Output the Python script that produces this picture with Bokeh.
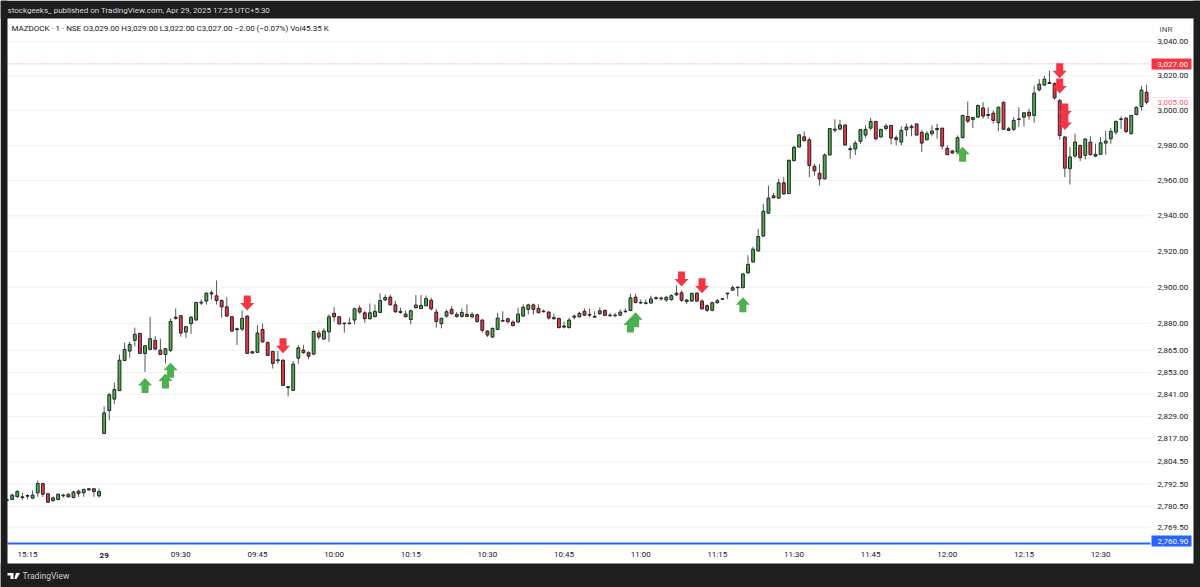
import numpy as np
from bokeh.plotting import figure
from bokeh.models import (ColumnDataSource, FixedTicker, NumeralTickFormatter, Range1d, Label,
                          BoxAnnotation, PolyAnnotation)
from bokeh.embed import file_html
from bokeh.resources import INLINE

FONT = "Roboto"

BAR_INDEX = list(range(-4, 220))
OPEN = [2783.9,2784.3,2785.7,2785.3,2786,2785,2787.8,2792.8,2787.3,2783.7,2784.3,2786.2,2787.1,2785.3,2788.7,2787.8,2789.4,2790,2786.2,
 2819.7,2832.2,2838.4,2843,2859.5,2864.7,2870.6,2874.4,2863.4,2865.6,2870.6,2865.2,2862.8,2865.1,2882.7,2884.2,2875.2,2879.8,2881.8,2891.2,2892.3,2896.3,2895.2,2892.6,2889.1,2883.6,2876.5,2876.8,2884,2864.3,2864,2876.6,2869.5,2864.5,2859.4,2859.7,2844.7,2843.2,2860.8,2865.2,2863.8,2863,2874.6,2871.3,2875.3,
 2885.5,2883.6,2879.8,2879.8,2881.8,2888.4,2885.8,2882.5,2883.6,2886,2893,2894.5,2890.2,2886.6,2885.1,2882.1,2888.6,2888.2,2889.7,2892.8,2886.2,2879.8,2884,2887.7,2884.9,2883.8,2884.9,2883.6,2884.7,2881.8,2875.7,2872.4,2876.6,2881.6,2882.5,2880.7,2880.7,2884,2887.7,2890.2,2888.2,2886.7,2886.2,2883.1,2882.7,2878.5,2877.6,2883.4,2883.6,2886.6,2884.9,2883.4,2885.3,2887.1,2884.5,2884.2,2884.5,2886.4,2887.1,2894.5,2891.5,2891,
 2891.2,2893.8,2893.6,2892.9,2893.1,2895.7,2896.9,2892.1,2892.3,2896.7,2892.3,2889.7,2887.2,2891.4,2893.3,2896.3,2898.4,2900.1,2899.7,2908,2914.1,2920.3,2928.6,2941.5,2951.3,2950,2958.7,2952.6,2971.3,2979.1,2984.9,2983.2,2968.1,2964.1,2960.9,2974.5,2988.7,2989.3,2991.7,2978.1,2977.9,
 2982.3,2985.9,2989.9,2993.7,2984.8,2989.7,2991.4,2984.4,2981.9,2989,2990.1,2992.3,2987.5,2983.2,2986.7,2989,2989.9,2978.3,2976.8,2976.2,2984.4,2996.6,2994.9,2996.2,3001.5,2997.2,2998.5,2993,3004.8,2989.5,2989.2,2994.9,2996.2,2999,2997.2,3012,3014.7,3016.2,3015.6,3005.7,2984.8,2966.7,2973.9,2980,2974.3,2981.9,2974.9,2974.9,2981.3,2983.8,2987.6,2994.9,2995.6,2986.7,2997.7,3002.3,3010.5]
HIGH = [2784.4,2787.4,2789.2,2787.8,2787.1,2789.2,2794.4,2793.1,2787.8,2786,2787.4,2787.4,2787.4,2788.9,2789.6,2790.1,2790.1,2790.1,2790.1,
 2834.4,2841.7,2847.4,2862.8,2869.3,2869.8,2877.6,2874.8,2868,2883.6,2873,2871.5,2866.2,2882.7,2888.2,2884.5,2878.5,2884,2891.9,2893.2,2897.4,2898.3,2903.8,2893.2,2894.5,2884,2877.6,2887.1,2884.4,2864.7,2879,2879.8,2869.8,2864.7,2864.7,2860.1,2845.4,2859.2,2868,2868,2864.7,2876.1,2876.1,2877.2,2884.9,
 2888.9,2884,2880.3,2883.1,2888.6,2889.9,2886.7,2891,2890.4,2896.5,2895.9,2895.9,2892.3,2888.6,2887.1,2887.7,2895.6,2895.6,2895.4,2894.1,2888,2883.1,2887.7,2889.5,2886.2,2888.2,2890.4,2886.2,2885.3,2882.1,2876.1,2877.6,2885.8,2886.7,2883.1,2881.6,2888.6,2890.4,2890.8,2891,2890.4,2887.7,2886.7,2885.3,2883.1,2880.9,2883.1,2884.9,2886.4,2888.2,2888.2,2886.7,2888.9,2887.7,2885.8,2885.8,2887.7,2888.2,2896.3,2896.3,2893.2,2893.2,
 2895.3,2894.8,2894.8,2895.2,2896.1,2901,2898.2,2893.5,2897.2,2897.2,2893.3,2890.4,2891.9,2893.5,2893.8,2897,2901,2900.1,2908,2917.8,2922.6,2932.6,2946.7,2957.1,2953,2960.9,2961.9,2971.9,2979.8,2986.4,2988,2984.6,2969.4,2969.4,2975.5,2989.9,2995,2994.6,2992,2979.8,2982.7,
 2989.5,2991.5,2995.8,2994,2989.5,2992.4,2991.6,2985.7,2990.9,2992.4,2992,2992.4,2988.6,2988.2,2991.4,2992.4,2990,2980,2977.5,2985.7,2997.5,3005.2,2996.2,3003.5,3004.8,3001.9,3000,3002.3,3005.2,2990.5,2996.2,3001.9,2999,3001,3014.3,3018.1,3020,3022.9,3016.2,3006.7,2985.2,2979.1,2986.7,2980.4,2983.8,2985.2,2981,2984.8,2988.2,2989.9,2994.3,2996.6,2996.2,2997.3,3002.3,3014.3,3014.9]
LOW = [2783.4,2783.9,2785.3,2783.9,2784.3,2784.6,2785.7,2785.7,2782.5,2783,2783.9,2785.3,2785.3,2785,2785.7,2785.7,2788.9,2785.7,2785.3,
 2819.7,2827,2835.8,2843,2859.2,2861,2867.4,2863.2,2853.3,2865.1,2865.1,2862.5,2857.9,2864.1,2882,2872.6,2872,2874.2,2881.6,2890.1,2890.4,2893.2,2890.4,2883.1,2883.4,2875.3,2868,2875.7,2863.2,2863.2,2863.8,2869.5,2861.9,2855.1,2857.7,2845.4,2839.9,2843,2857.7,2863.2,2860.1,2862.5,2871.1,2871.1,2869.8,
 2880.9,2879.4,2874.8,2879.4,2879.4,2885.3,2880.3,2882.1,2883.4,2885.8,2892.3,2890,2885.8,2885.3,2883.4,2879.4,2888.2,2887.7,2889.5,2887.1,2877.6,2877.2,2883.1,2884.9,2883.1,2883.1,2883.4,2882.7,2880.3,2874.8,2872.4,2872,2876.3,2880.9,2879.8,2878.3,2880.3,2883.6,2884.9,2884.9,2885.8,2886,2882.1,2882.1,2877.2,2877.2,2877.2,2882.1,2883.1,2884,2883.4,2883.1,2884.5,2884,2883.6,2883.4,2884,2885.8,2886.7,2891,2890.8,2890.4,
 2891,2892.9,2892.5,2891.9,2892.5,2895.3,2891.9,2890.8,2891.9,2891.9,2887.6,2886.3,2886.6,2890.8,2892.9,2893.5,2898,2894.8,2899.5,2907.4,2913.7,2919.7,2928.2,2941.1,2950,2949.6,2952,2952.4,2970.9,2978.9,2982.3,2961.9,2962.8,2957.1,2960.7,2974.2,2987.4,2988.7,2979.8,2972.3,2974.5,
 2981,2984.4,2988.6,2982.9,2984.4,2988.6,2980.6,2980,2980,2985.2,2985.2,2985.7,2976.2,2982.9,2985.2,2983.8,2977.7,2974.5,2975.2,2975.6,2984.2,2992.8,2989.9,2995.8,2995.2,2995.2,2992.4,2988.2,2989,2988.2,2988.2,2990.5,2990.9,2994.7,2993,3011,3014.3,3015.5,3006.1,2983.3,2961.9,2957.7,2973,2971.1,2972,2974.3,2973.3,2974.7,2974.7,2980.9,2986.1,2989.5,2987,2986.3,2997.2,3000,3003.5]
CLOSE = [2784.1,2786.6,2788.5,2785.7,2786.4,2786.6,2792.8,2787.1,2782.8,2785.1,2787.1,2786.6,2785.7,2788.3,2787.4,2789.6,2790,2788.5,2788.5,
 2830.9,2840.8,2843.6,2859.7,2865.6,2868.4,2873.9,2863.4,2867.6,2871.5,2865.8,2862.8,2866,2881,2883.4,2874.6,2878.1,2883.3,2891.5,2891.7,2896.7,2896.9,2892.6,2889.1,2884,2875.7,2877,2882.7,2863.4,2863.6,2874.6,2869.7,2862.3,2857.9,2859.9,2845.9,2845.2,2857.5,2866.5,2863.8,2861.9,2875.5,2872.4,2875.7,2883.6,
 2883.6,2879.6,2880.1,2880.1,2888,2886.2,2882.5,2885.8,2886.6,2892.6,2894.3,2890.2,2886.4,2886,2883.6,2886.9,2890.1,2889.9,2893.7,2888,2881,2882.7,2886.4,2885.3,2883.8,2886,2883.8,2884.9,2881,2876.1,2873.5,2877.2,2882.9,2881.2,2880.9,2878.7,2885.1,2888.9,2890.2,2887.7,2885.8,2886.4,2882.9,2882.5,2877.6,2877.9,2881.8,2884,2885.5,2884.5,2884.5,2883.8,2886.9,2884.4,2884.2,2884.5,2886.2,2886.7,2894.1,2891.5,2891.2,2891.3,
 2893.5,2894.2,2894,2894.4,2895.3,2896.7,2892.7,2892.9,2896.5,2892.3,2888,2887.2,2891.4,2892.5,2893.6,2896.7,2899.7,2899.7,2907.4,2912.7,2921.2,2928.4,2942.6,2950,2950.2,2958.7,2952.4,2971.5,2978.9,2986,2982.7,2968.5,2965.5,2960.9,2974.5,2989.7,2989.3,2991.7,2980.2,2977.6,2981.3,
 2989,2989.2,2993.7,2983.8,2989.2,2991.1,2984.2,2983.3,2988.6,2990.5,2990.9,2985.9,2981.3,2986.7,2988.2,2989.7,2979.6,2974.7,2975.6,2984.4,2997.2,2993.9,2996,3002.9,2996.8,2997.7,2994.3,3001.9,2989.2,2988.6,2994.3,2995.2,2998.7,2997,3010.1,3015.2,3018.1,3015.6,3007.3,2985.7,2967,2973.4,2981.9,2973,2983.7,2974.7,2973.9,2981.5,2982.5,2988,2993.7,2995.2,2988,2997.2,3001.9,3011.8,3004.8]

PRICE_TICKS = [3040,3020,3000,2980,2960,2940,2920,2900,2880,2865,2853,2841,2829,2817,2804.5,2792.5,2780.5,2769.5]
TIME_TICKS = [0,30,45,60,75,90,105,120,135,150,165,180,195,210]
TIME_LABELS = ["15:15","09:30","09:45","10:00","10:15","10:30","10:45","11:00","11:15","11:30","11:45","12:00","12:15","12:30"]
DAY_TICK, DAY_LABEL = 15, "29"

UP_ARROW_BAR = [23,27,28,118,119,140,183]
UP_ARROW_PRICE = [2845.8,2848.3,2854.2,2879.1,2881.9,2890.2,2974.9]
DOWN_ARROW_BAR = [43,50,128,132,202,202,203,203]
DOWN_ARROW_PRICE = [2891.2,2867.6,2904.6,2900.8,3023,3014.1,2999.8,2993.1]

LAST_PRICE, MARK_PRICE, BASE_PRICE = 3005, 3027, 2760.9

GREEN, RED, BLUE, DARK = "#4caf50", "#f23645", "#2962ff", "#1e1e1e"
PX_X = 5.11          # pixels per bar
PX_Y = 5212.0        # pixels per unit of ln(price)
PANE_LEFT, PANE_RIGHT = -3.914, 219.77      # bar-index limits of the candle pane

p = figure(width=1200, height=587, output_backend="svg", toolbar_location=None,
           y_axis_type="log", y_axis_location="right",
           x_range=Range1d(-5.2838, 229.55), y_range=Range1d(2737.64, 3064.01),
           min_border_left=0, min_border_right=0, min_border_top=0, min_border_bottom=0)
p.styles = {"position": "absolute", "left": "0px", "top": "0px"}
p.outline_line_color = None
p.background_fill_color = "white"
p.border_fill_color = "white"
p.grid.visible = False

yax = p.yaxis[0]
yax.fixed_location = PANE_RIGHT
yax.ticker = FixedTicker(ticks=PRICE_TICKS)
yax.formatter = NumeralTickFormatter(format="0,0.00")
yax.axis_line_color = None
yax.major_tick_line_color = None
yax.minor_tick_line_color = None
yax.major_label_text_font = FONT
yax.major_label_text_font_size = "8px"
yax.major_label_text_color = "#131722"
yax.major_label_standoff = 1

xax = p.xaxis[0]
xax.fixed_location = 2759.8
xax.ticker = FixedTicker(ticks=TIME_TICKS)
xax.major_label_overrides = dict(zip(TIME_TICKS, TIME_LABELS))
xax.axis_line_color = None
xax.major_tick_line_color = None
xax.minor_tick_line_color = None
xax.major_label_text_font = FONT
xax.major_label_text_font_size = "8px"
xax.major_label_text_color = "#131722"
xax.major_label_standoff = -1

grid_y = np.array(PRICE_TICKS, dtype=float)
p.segment(PANE_LEFT, grid_y, PANE_RIGHT, grid_y, line_color="#eef0f3", line_width=1)

o, h, l, c = map(np.array, (OPEN, HIGH, LOW, CLOSE))
src = ColumnDataSource(dict(x=BAR_INDEX, o=o, h=h, l=l, c=c,
                            top=np.maximum(o, c), bottom=np.minimum(o, c),
                            color=[GREEN if b >= a else RED for a, b in zip(o, c)]))
p.segment("x", "h", "x", "l", source=src, line_color="#555555", line_width=1)
p.vbar("x", width=0.56, top="top", bottom="bottom", source=src, fill_color="color",
       line_color="#222222", line_width=1)

p.segment(PANE_LEFT, MARK_PRICE, PANE_RIGHT, MARK_PRICE, line_color=RED, line_width=1,
          line_dash="1 2", line_alpha=0.6)
p.segment(PANE_LEFT, BASE_PRICE, PANE_RIGHT, BASE_PRICE, line_color=BLUE, line_width=2)


def arrows(bars, prices, sign):
    pts = [(0, 7.5), (7, 0), (3.5, 0), (3.5, -7.5), (-3.5, -7.5), (-3.5, 0), (-7, 0)]
    xs = [[b + dx / PX_X for dx, _ in pts] for b in bars]
    ys = [[pr * np.exp(sign * dy / PX_Y) for _, dy in pts] for pr in prices]
    return xs, ys


xs, ys = arrows(UP_ARROW_BAR, UP_ARROW_PRICE, 1)
p.patches(xs, ys, fill_color=GREEN, line_color=None)
xs, ys = arrows(DOWN_ARROW_BAR, DOWN_ARROW_PRICE, -1)
p.patches(xs, ys, fill_color=RED, line_color=None)


def box(left, right, top, bottom, fill, line=None, radius=0):
    p.add_layout(BoxAnnotation(left=left, right=right, top=top, bottom=bottom,
                               left_units="canvas", right_units="canvas",
                               top_units="canvas", bottom_units="canvas",
                               fill_color=fill, fill_alpha=1, line_color=line,
                               border_radius=radius, level="annotation", editable=False))


def text(x, y, s, size="8px", color="#131722", style="normal", align="left", x_units="canvas"):
    p.add_layout(Label(x=x, y=y, x_units=x_units, y_units="canvas", text=s, text_font=FONT,
                       text_font_size=size, text_color=color, text_font_style=style,
                       text_align=align, text_baseline="middle", level="annotation"))


# dark surround of the published snapshot
box(0, 1200, 0, 18, DARK)
box(0, 1200, 563, 587, DARK)
box(0, 7, 0, 587, DARK)
box(1193, 1200, 0, 587, DARK)

text(DAY_TICK, 554.5, DAY_LABEL, style="bold", align="center", x_units="data")

box(1153, 1191, 20, 37, "white", "#e8eaee", 3)
text(1159, 28.5, "INR", color="#555555")

box(1151, 1191, 58, 69, RED)
text(1157, 63.5, "3,027.00", color="white")
box(1151.5, 1190.5, 97, 106.5, "white", "#f9a7ad")
text(1157, 101.5, "3,005.00", color="#f4626d")
box(1151, 1191, 535, 546, BLUE)
text(1157, 540.5, "2,760.90", color="white")

text(7, 9.5, "stockgeeks_  published on TradingView.com, Apr 29, 2025 17:25 UTC+5:30", color="#d6d8de")
text(11, 27.5, "MAZDOCK · 1 · NSE    O3,029.00    H3,029.00    L3,022.00    C3,027.00    −2.00 (−0.07%)    Vol45.35 K")
text(22, 575.5, "TradingView", size="8.5px", color="#c8cad0")

for poly_x, poly_y in [([7, 13, 13, 10, 10, 7], [572.5, 572.5, 578.5, 578.5, 575, 575]),
                       ([15.5, 19.5, 16, 13.8], [572.5, 572.5, 578.5, 578.5])]:
    p.add_layout(PolyAnnotation(xs=poly_x, ys=poly_y, xs_units="canvas", ys_units="canvas",
                                fill_color="white", fill_alpha=1, line_color=None,
                                level="annotation", editable=False))

assert len(BAR_INDEX) == len(OPEN) == len(HIGH) == len(LOW) == len(CLOSE), (len(BAR_INDEX), len(OPEN), len(HIGH), len(LOW), len(CLOSE))
open("out.html", "w").write(file_html(p, INLINE))
